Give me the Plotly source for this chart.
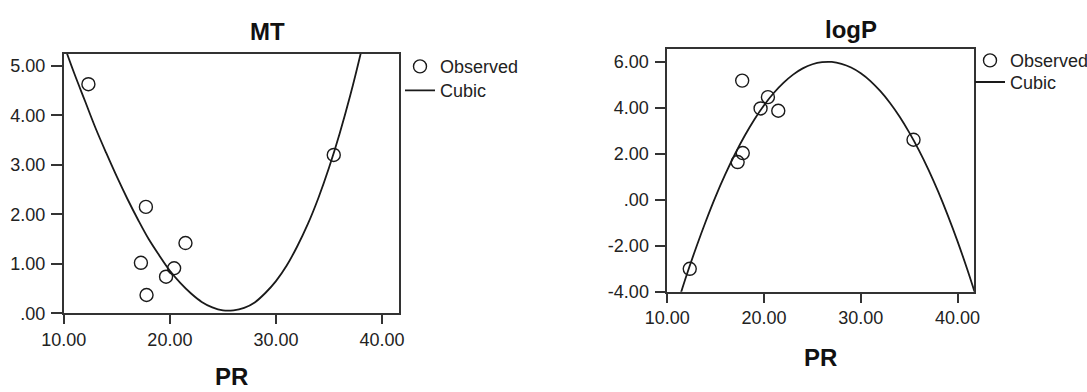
import plotly.graph_objects as go

# ---- data ----
PR = [12.32, 17.27, 17.74, 17.80, 19.64, 20.40, 21.47, 35.45]
MT = [4.63, 1.02, 2.15, 0.37, 0.74, 0.91, 1.42, 3.20]
LOGP = [-3.00, 1.64, 5.18, 2.03, 3.97, 4.46, 3.87, 2.61]

# cubic fit lines at whole PR steps
MT_FIT_X = [10, 11, 12, 13, 14, 15, 16, 17, 18, 19, 20, 21, 22, 23, 24, 25,
            26, 27, 28, 29, 30, 31, 32, 33, 34, 35, 36, 37, 38, 39]
MT_FIT_Y = [5.43, 4.84, 4.29, 3.74, 3.24, 2.76, 2.31, 1.89, 1.50, 1.17, 0.86, 0.61, 0.40, 0.23, 0.12, 0.06,
            0.06, 0.11, 0.22, 0.41, 0.65, 0.96, 1.35, 1.80, 2.33, 2.94, 3.63, 4.40, 5.26, 6.21]
LP_FIT_X = [11, 12, 13, 14, 15, 16, 17, 18, 19, 20, 21, 22, 23, 24, 25, 26,
            27, 28, 29, 30, 31, 32, 33, 34, 35, 36, 37, 38, 39, 40, 41, 42]
LP_FIT_Y = [-4.59, -3.27, -2.05, -0.91, 0.15, 1.11, 1.99, 2.78, 3.49, 4.11, 4.64, 5.08, 5.44, 5.71, 5.89, 5.98,
            5.99, 5.91, 5.75, 5.50, 5.16, 4.73, 4.22, 3.62, 2.93, 2.16, 1.30, 0.35, -0.69, -1.81, -3.02, -4.32]

X_TICKS = [10, 20, 30, 40]
X_TEXT = ["10.00", "20.00", "30.00", "40.00"]
MT_TICKS = [0, 1, 2, 3, 4, 5]
MT_TEXT = [".00", "1.00", "2.00", "3.00", "4.00", "5.00"]
LP_TICKS = [-4, -2, 0, 2, 4, 6]
LP_TEXT = ["-4.00", "-2.00", ".00", "2.00", "4.00", "6.00"]

W, H = 1087, 392
FONT = "Liberation Sans, Arial, sans-serif"
INK = "#1a1a1a"
TXT = "#222"


def px_x(p):
    return p / W


def px_y(p):
    return 1 - p / H


fig = go.Figure()

marker_style = dict(symbol="circle-open", size=13, color=INK, line=dict(width=1.4))
line_style = dict(color=INK, width=1.8, shape="spline", smoothing=1.0)

fig.add_trace(go.Scatter(x=PR, y=MT, mode="markers", name="Observed", marker=marker_style,
                         xaxis="x", yaxis="y", legend="legend", cliponaxis=False))
fig.add_trace(go.Scatter(x=MT_FIT_X, y=MT_FIT_Y, mode="lines", name="Cubic", line=line_style,
                         xaxis="x", yaxis="y", legend="legend2"))
fig.add_trace(go.Scatter(x=PR, y=LOGP, mode="markers", name="Observed", marker=marker_style,
                         xaxis="x2", yaxis="y2", legend="legend3", cliponaxis=False))
fig.add_trace(go.Scatter(x=LP_FIT_X, y=LP_FIT_Y, mode="lines", name="Cubic", line=line_style,
                         xaxis="x2", yaxis="y2", legend="legend4"))

axis_common = dict(showline=True, linecolor="#333", linewidth=1.6, mirror=True,
                   ticks="outside", tickcolor="#333", tickwidth=1.6,
                   showgrid=False, zeroline=False, automargin=False,
                   tickfont=dict(family=FONT, size=18, color=TXT))


def legend_at(x_px, top_px):
    return dict(x=px_x(x_px), y=px_y(top_px), xanchor="left", yanchor="top",
                font=dict(family=FONT, size=18, color=TXT), bgcolor="rgba(0,0,0,0)",
                borderwidth=0, tracegroupgap=0, itemwidth=30)


fig.update_layout(
    template="none",
    width=W, height=H,
    margin=dict(l=0, r=0, t=0, b=0, pad=0, autoexpand=False),
    paper_bgcolor="white", plot_bgcolor="white",
    showlegend=True,
    xaxis=dict(domain=[px_x(63.8), px_x(399)], range=[10, 41.6], tickvals=X_TICKS, ticktext=X_TEXT,
               ticklen=9, anchor="y", **axis_common),
    yaxis=dict(domain=[px_y(313.3), px_y(53.5)], range=[0, 5.25], tickvals=MT_TICKS, ticktext=MT_TEXT,
               ticklen=11, ticklabelstandoff=2, anchor="x", **axis_common),
    xaxis2=dict(domain=[px_x(667.3), px_x(974)], range=[10, 41.7], tickvals=X_TICKS, ticktext=X_TEXT,
                ticklen=9, anchor="y2", **axis_common),
    yaxis2=dict(domain=[px_y(291.8), px_y(49.3)], range=[-4, 6.54], tickvals=LP_TICKS, ticktext=LP_TEXT,
                ticklen=11, ticklabelstandoff=2, anchor="x2", **axis_common),
    legend=legend_at(400, 48.2),
    legend2=legend_at(400, 72.2),
    legend3=legend_at(970, 42.2),
    legend4=legend_at(970, 63.8),
    annotations=[
        dict(text="<b>MT</b>", x=px_x(267), y=px_y(31), xref="paper", yref="paper",
             showarrow=False, font=dict(family=FONT, size=24, color="#111"), xanchor="center", yanchor="middle"),
        dict(text="<b>logP</b>", x=px_x(851), y=px_y(29), xref="paper", yref="paper",
             showarrow=False, font=dict(family=FONT, size=24, color="#111"), xanchor="center", yanchor="middle"),
        dict(text="<b>PR</b>", x=px_x(231), y=px_y(376), xref="paper", yref="paper",
             showarrow=False, font=dict(family=FONT, size=24, color="#111"), xanchor="center", yanchor="middle"),
        dict(text="<b>PR</b>", x=px_x(820), y=px_y(357), xref="paper", yref="paper",
             showarrow=False, font=dict(family=FONT, size=24, color="#111"), xanchor="center", yanchor="middle"),
    ],
)

fig.write_html("out.html", config={"displayModeBar": False},
               post_script="document.body.style.margin='0px';")
